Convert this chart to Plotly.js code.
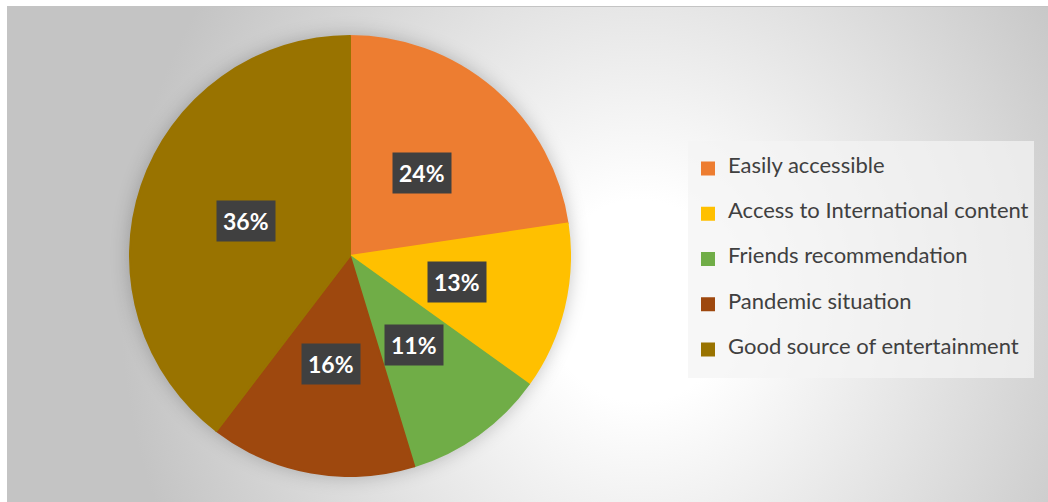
<!DOCTYPE html>
<html>
<head>
<meta charset="utf-8">
<script src="https://cdn.plot.ly/plotly-3.0.1.min.js"></script>
<style>
  html, body { margin: 0; padding: 0; background: #ffffff; }
  #wrap { position: relative; width: 1048px; height: 502px; overflow: hidden; }
  #bg {
    position: absolute; left: 7px; top: 6px; width: 1041px; height: 496px;
    border-top: 1px solid #c4c4c4; box-sizing: border-box;
    background: radial-gradient(ellipse 520px 560px at 633px 294px, #ffffff 0%, #ffffff 18%, #c4c4c4 100%);
  }
  #chart { position: absolute; left: 0; top: 0; width: 1048px; height: 502px; }
  #chart .pielayer { filter: drop-shadow(0px 0px 9px rgba(0,0,0,0.22)); }
</style>
</head>
<body>
<div id="wrap">
  <div id="bg"></div>
  <div id="chart"></div>
</div>
<script>
// ---- data ----
var categories = [
  'Easily accessible',
  'Access to International content',
  'Friends recommendation',
  'Pandemic situation',
  'Good source of entertainment'
];
var sliceValues = [24, 13, 11, 16, 42];
var labelTexts = ['24%', '13%', '11%', '16%', '36%'];
var sliceColors = ['#ED7D31', '#FFC000', '#70AD47', '#9E480E', '#997300'];

// ---- layout constants ----
var W = 1048, H = 502;
var pieCx = 350, pieCy = 256, pieR = 220;   // pixel geometry of the pie
var domX = [(pieCx - pieR) / W, (pieCx + pieR) / W];
var domY = [(H - pieCy - pieR) / H, (H - pieCy + pieR) / H];
var cxP = (domX[0] + domX[1]) / 2, cyP = (domY[0] + domY[1]) / 2;

// legend labels: pad each entry to three lines so rows are spaced like the original
var legendLabels = categories.map(function (c) {
  return '<br><span style="font-size:22px">' + c + '</span><br> ';
});

var total = sliceValues.reduce(function (a, b) { return a + b; }, 0);
var annotations = [];
var cum = 0;
for (var i = 0; i < sliceValues.length; i++) {
  var mid = (cum + sliceValues[i] / 2) / total * 2 * Math.PI;
  cum += sliceValues[i];
  var rl = pieR * 0.5;
  annotations.push({
    x: cxP, y: cyP, xref: 'paper', yref: 'paper',
    xshift: rl * Math.sin(mid), yshift: rl * Math.cos(mid),
    text: '<b>' + labelTexts[i] + '</b>',
    showarrow: false,
    font: { family: 'Lato, "Open Sans", sans-serif', size: 23, color: '#ffffff' },
    bgcolor: '#404040',
    borderpad: 6,
    xanchor: 'center', yanchor: 'middle'
  });
}

var trace = {
  type: 'pie',
  labels: legendLabels,
  values: sliceValues,
  sort: false,
  direction: 'clockwise',
  rotation: 0,
  textinfo: 'none',
  hoverinfo: 'skip',
  marker: { colors: sliceColors, line: { color: sliceColors, width: 2 } },
  domain: { x: domX, y: domY }
};

var layout = {
  width: W, height: H,
  margin: { l: 0, r: 0, t: 0, b: 0, pad: 0 },
  paper_bgcolor: 'rgba(0,0,0,0)',
  plot_bgcolor: 'rgba(0,0,0,0)',
  showlegend: true,
  legend: {
    x: 688 / W, xanchor: 'left',
    y: 1 - 141 / H, yanchor: 'top',
    bgcolor: 'rgba(244,244,244,0.72)',
    borderwidth: 0,
    font: { family: 'Lato, "Open Sans", sans-serif', size: 10.83, color: '#404040' },
    traceorder: 'normal'
  },
  annotations: annotations
};

Plotly.newPlot('chart', [trace], layout, { staticPlot: true, displayModeBar: false });
</script>
</body>
</html>
